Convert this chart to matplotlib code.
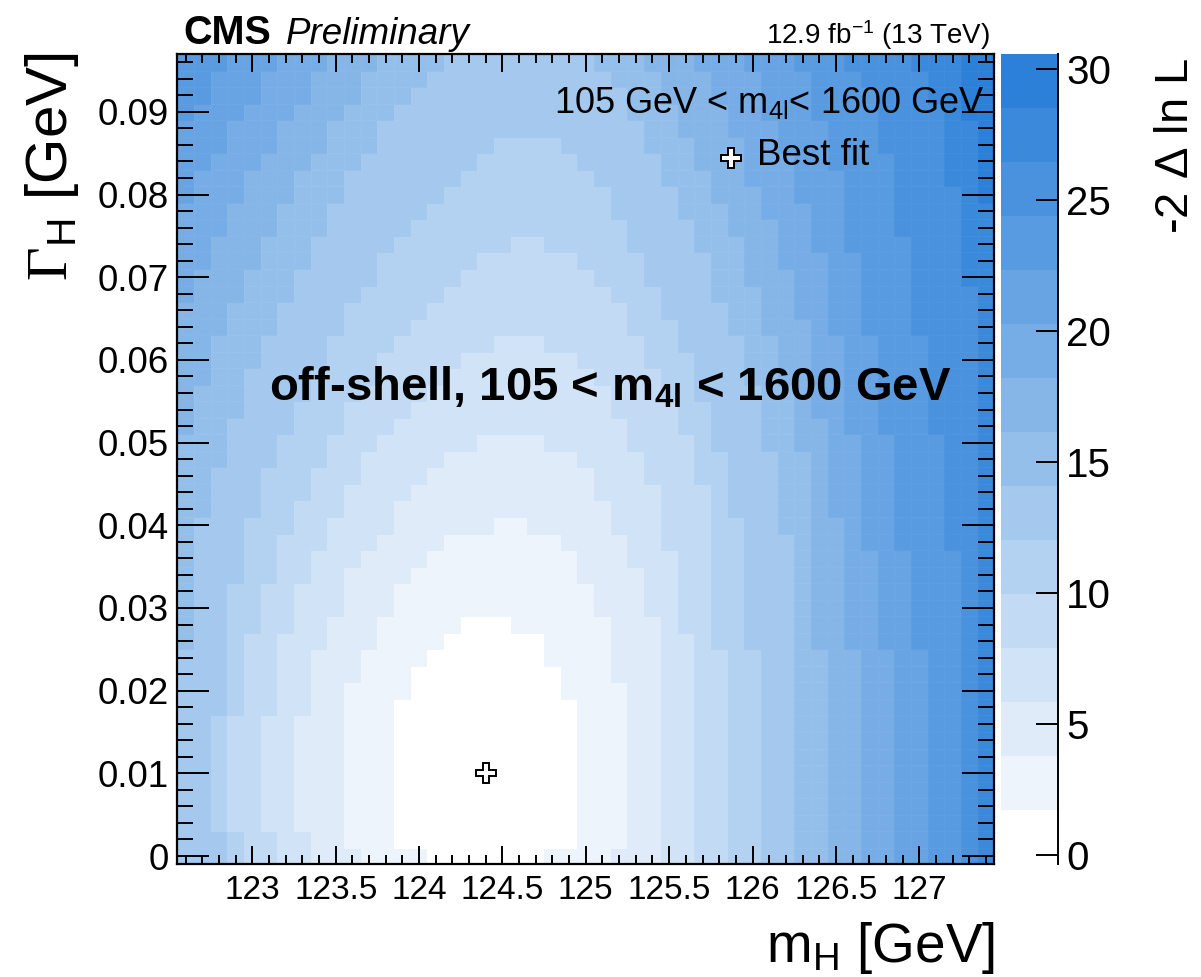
import matplotlib
matplotlib.use('Agg')
import matplotlib.pyplot as plt
import numpy as np
from matplotlib.colors import ListedColormap, BoundaryNorm

plt.rcParams['font.family'] = ['Liberation Sans', 'DejaVu Sans']
plt.rcParams['mathtext.fontset'] = 'custom'
plt.rcParams['mathtext.rm'] = 'Liberation Serif'
plt.rcParams['mathtext.sf'] = 'Liberation Sans'
plt.rcParams['mathtext.bf'] = 'Liberation Sans:bold'
plt.rcParams['mathtext.it'] = 'Liberation Sans:italic'

# bins: m_H 122.55..127.45 (0.1 GeV), Gamma_H -0.001..0.097 (0.002 GeV)
x_edges = np.round(np.arange(122.55, 127.46, 0.1), 3)
y_edges = np.round(np.arange(-0.001, 0.0971, 0.002), 4)

# -2 dln L is shown in 15 colour bands between z_lo and z_hi
z_lo, z_hi, n_bands = -0.34, 30.57, 15

# each contour k (band k -> k+1) is read off the picture as, per row (bottom to top),
# the first and last column inside it; given as (column, number of rows) runs
left_edges = [
    [(15, 1), (13, 9), (14, 2), (15, 1), (16, 1), (17, 1), (99, 34)],
    [(11, 1), (10, 10), (11, 2), (12, 2), (13, 2), (14, 1), (15, 1), (16, 1), (19, 1), (99, 28)],
    [(8, 2), (7, 7), (8, 4), (9, 2), (10, 3), (11, 1), (12, 1), (13, 2), (14, 1), (15, 1), (16, 1), (18, 1), (99, 23)],
    [(6, 2), (5, 7), (6, 5), (7, 3), (8, 2), (9, 2), (10, 2), (11, 2), (12, 1), (13, 1), (14, 1), (15, 1), (16, 1),
     (17, 1), (19, 1), (99, 17)],
    [(4, 2), (3, 7), (4, 5), (5, 3), (6, 3), (7, 2), (8, 2), (9, 2), (10, 2), (11, 1), (12, 2), (13, 1), (14, 1),
     (15, 1), (16, 1), (17, 1), (18, 1), (20, 1), (99, 11)],
    [(3, 2), (2, 7), (3, 8), (4, 4), (5, 3), (6, 2), (7, 2), (8, 2), (9, 2), (10, 2), (11, 1), (12, 2), (13, 1),
     (14, 1), (15, 1), (16, 1), (17, 1), (18, 1), (19, 1), (99, 5)],
    [(0, 13), (1, 8), (2, 3), (3, 3), (4, 3), (5, 2), (6, 2), (7, 2), (8, 2), (9, 2), (10, 2), (11, 1), (12, 2),
     (13, 1), (14, 1), (15, 1), (16, 1)],
    [(-1, 24), (0, 2), (1, 3), (2, 3), (3, 2), (4, 2), (5, 2), (6, 2), (7, 2), (8, 1), (9, 2), (10, 1), (11, 2), (12, 1)],
    [(-1, 32), (0, 2), (1, 2), (2, 2), (3, 2), (4, 2), (5, 1), (6, 2), (7, 1), (8, 2), (9, 1)],
    [(-1, 38), (0, 2), (1, 2), (2, 1), (3, 2), (4, 1), (5, 2), (6, 1)],
    [(-1, 43), (0, 2), (1, 1), (2, 2), (3, 1)],
    [(-1, 48), (0, 1)],
    [(-1, 49)],
    [(-1, 49)],
]
right_edges = [
    [(21, 1), (23, 9), (22, 2), (21, 1), (21, 1), (19, 1), (-1, 34)],
    [(25, 1), (26, 10), (25, 2), (25, 2), (24, 2), (23, 2), (22, 1), (20, 1), (-1, 28)],
    [(28, 15), (27, 3), (26, 2), (25, 2), (24, 2), (23, 1), (21, 1), (-1, 23)],
    [(30, 14), (29, 5), (28, 4), (27, 2), (26, 2), (25, 2), (24, 1), (23, 1), (21, 1), (-1, 17)],
    [(32, 13), (31, 10), (30, 3), (29, 2), (28, 2), (27, 2), (26, 2), (25, 1), (24, 1), (23, 1), (21, 1), (-1, 11)],
    [(34, 13), (33, 8), (32, 4), (31, 3), (30, 3), (29, 2), (28, 2), (27, 2), (26, 2), (25, 2), (24, 1), (23, 1),
     (22, 1), (-1, 5)],
    [(36, 20), (35, 5), (34, 4), (33, 3), (32, 2), (31, 3), (30, 2), (29, 2), (28, 2), (27, 2), (26, 2), (25, 1), (24, 1)],
    [(38, 13), (37, 12), (36, 4), (35, 3), (34, 3), (33, 3), (32, 2), (31, 2), (30, 2), (29, 2), (28, 2), (27, 1)],
    [(40, 13), (39, 8), (38, 6), (37, 6), (36, 3), (35, 3), (34, 2), (33, 3), (32, 2), (31, 2), (30, 1)],
    [(42, 13), (41, 6), (40, 7), (39, 6), (38, 5), (37, 3), (36, 3), (35, 2), (34, 3), (33, 1)],
    [(44, 13), (43, 6), (42, 7), (41, 6), (40, 5), (39, 5), (38, 3), (37, 3), (36, 1)],
    [(46, 19), (45, 7), (44, 6), (43, 6), (42, 5), (41, 4), (40, 1), (39, 1)],
    [(47, 35), (46, 6), (45, 5), (44, 2), (43, 1)],
    [(49, 32), (48, 8), (47, 5), (46, 4)],
]

best_fit = (124.4, 0.010)

x_ticks = [123, 123.5, 124, 124.5, 125, 125.5, 126, 126.5, 127]
x_labels = ['123', '123.5', '124', '124.5', '125', '125.5', '126', '126.5', '127']
y_ticks = [0, 0.01, 0.02, 0.03, 0.04, 0.05, 0.06, 0.07, 0.08, 0.09]
y_labels = ['0', '0.01', '0.02', '0.03', '0.04', '0.05', '0.06', '0.07', '0.08', '0.09']
z_ticks = [0, 5, 10, 15, 20, 25, 30]

band_colors = ['#ffffff', '#eef4fc', '#e0ebf9', '#d1e3f6', '#c2daf4', '#b3d1f1', '#a4c8ee', '#95bfeb',
               '#86b6e8', '#77ade6', '#68a4e3', '#599be0', '#4a92dd', '#3b89da', '#2c80d8']


def expand(runs):
    out = []
    for v, n in runs:
        out += [v] * n
    return np.array(out)


ncol = len(x_edges) - 1
nrow = len(y_edges) - 1
cols = np.arange(ncol)
level = np.zeros((nrow, ncol), dtype=int)
for lo_runs, hi_runs in zip(left_edges, right_edges):
    lo = expand(lo_runs)
    hi = expand(hi_runs)
    level += (cols[None, :] < lo[:, None]) | (cols[None, :] > hi[:, None])

step = (z_hi - z_lo) / n_bands
z = z_lo + (level + 0.5) * step
bounds = z_lo + step * np.arange(n_bands + 1)

cmap = ListedColormap(band_colors)
norm = BoundaryNorm(bounds, cmap.N)

W, H = 1201, 977
fig = plt.figure(figsize=(W / 100, H / 100), dpi=100)
ax = fig.add_axes([177.3 / W, 1 - 864.3 / H, 817 / W, 810.3 / H])

mesh = ax.pcolormesh(x_edges, y_edges, z, cmap=cmap, norm=norm, shading='flat',
                     edgecolors=(1, 1, 1, 0.03), linewidth=0.4)
ax.plot(best_fit[0], best_fit[1], marker='P', ms=14, mfc='white', mec='black', mew=1.4, ls='none')

ax.set_xlim(x_edges[0], x_edges[-1])
ax.set_ylim(y_edges[0], y_edges[-1])
ax.set_xticks(x_ticks)
ax.set_xticklabels(x_labels)
ax.set_xticks(np.round(np.arange(122.6, 127.45, 0.1), 2), minor=True)
ax.set_yticks(y_ticks)
ax.set_yticklabels(y_labels)
ax.set_yticks(np.round(np.arange(0, 0.097, 0.002), 4), minor=True)

ax.tick_params(which='both', direction='in', top=True, right=True, width=1.4)
ax.tick_params(axis='x', which='major', length=13, labelsize=24, pad=8)
ax.tick_params(axis='x', which='minor', length=6.5)
ax.tick_params(axis='y', which='major', length=23, labelsize=26.5, pad=6)
ax.tick_params(axis='y', which='minor', length=11.5)
for s in ax.spines.values():
    s.set_linewidth(1.6)

# colour bar
cax = fig.add_axes([1001 / W, 1 - 864.3 / H, 57 / W, 810.3 / H])
cb = fig.colorbar(mesh, cax=cax, boundaries=bounds, spacing='proportional', ticks=z_ticks)
cb.outline.set_visible(False)
cax.set_ylim(z_lo, z_hi)
cax.yaxis.set_ticks_position('right')
cax.tick_params(direction='in', length=16, width=1.4, labelsize=29, pad=6)
cax.minorticks_off()
cax.plot([1, 1], [0, 1], transform=cax.transAxes, color='black', lw=1.4, clip_on=False)

fig.text(1176 / W, 1 - 58 / H, r'-2 $\mathsf{\Delta}$ ln L', rotation=90, ha='center', va='top', fontsize=34)

# axis titles
fig.text(52 / W, 1 - 52 / H, r'$\Gamma_{\mathsf{H}}$ [GeV]', rotation=90, ha='center', va='top', fontsize=42)
fig.text(995 / W, 1 - 962 / H, r'm$_{\mathsf{H}}$ [GeV]', ha='right', va='baseline', fontsize=39.5)

# header
fig.text(183 / W, 1 - 44 / H, 'CMS', fontsize=28.5, fontweight='bold', ha='left', va='baseline')
fig.text(286 / W, 1 - 44 / H, 'Preliminary', fontsize=26.5, fontstyle='italic', ha='left', va='baseline')
fig.text(990 / W, 1 - 44 / H, r'12.9 fb$^{\mathsf{-1}}$ (13 TeV)', fontsize=20, ha='right', va='baseline')

# labels inside the frame
fig.text(985 / W, 1 - 113 / H, r'105 GeV < m$_{\mathsf{4l}}$< 1600 GeV', fontsize=26, ha='right', va='baseline')
fig.text(757 / W, 1 - 165 / H, 'Best fit', fontsize=26.5, ha='left', va='baseline')
fig.lines.append(plt.Line2D([731 / W], [1 - 158 / H], transform=fig.transFigure, marker='P', ms=14,
                            mfc='white', mec='black', mew=1.4, ls='none'))
fig.text(610 / W, 1 - 401 / H, r'off-shell, 105 < m$_{\mathbf{4l}}$ < 1600 GeV', fontsize=34,
         fontweight='bold', ha='center', va='baseline')

fig.savefig('out.png', dpi=100)
